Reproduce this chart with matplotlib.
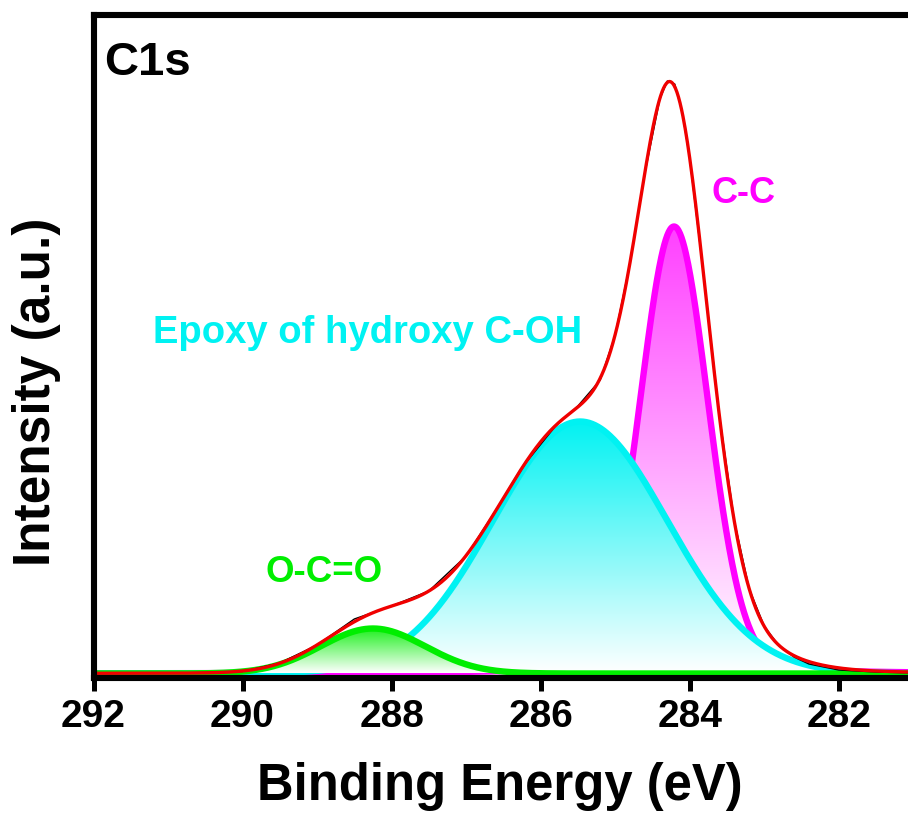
import numpy as np
import matplotlib
matplotlib.use('Agg')
import matplotlib.pyplot as plt
from matplotlib.patches import Polygon
from matplotlib.colors import to_rgb

plt.rcParams['font.family'] = ['Liberation Sans', 'DejaVu Sans']
plt.rcParams['font.weight'] = 'bold'

# raw C1s spectrum (binding energy, intensity)
raw_energy = [292.0, 291.5, 291.0, 290.5, 290.0, 289.5, 289.0, 288.5, 288.0, 287.5,
              287.0, 286.6, 286.2, 285.8, 285.5, 285.2, 285.0, 284.8, 284.6, 284.4,
              284.3, 284.2, 284.1, 284.0, 283.8, 283.6, 283.4, 283.2, 283.0, 282.8,
              282.6, 282.4, 282.0, 281.5, 281.0]
raw_counts = [5, 5, 5, 5.5, 6.5, 15, 33, 59, 72, 87,
              122, 168, 215, 252, 272, 298, 343, 415, 505, 579,
              597, 594, 566, 520, 395, 262, 157, 89, 52, 32,
              21, 14, 8, 6, 5]

# fitted components
peak_names = ['C-C', 'Epoxy of hydroxy C-OH', 'O-C=O']
peak_centers = [284.21, 285.47, 288.25]
peak_heights = [447, 252, 45]
peak_sigmas = [0.46, 1.17, 0.70]
peak_eta = [0.1, 0.0, 0.0]
peak_colors = ['#FF00FF', '#00F2F2', '#00EE00']
fill_strength = [0.75, 1.0, 0.9]
background = 4.5


def pseudo_voigt(x, c, h, s, eta):
    hw = 1.1774 * s
    lor = 1.0 / (1.0 + ((x - c) / hw) ** 2)
    gau = np.exp(-0.5 * ((x - c) / s) ** 2)
    return h * (eta * lor + (1 - eta) * gau)


fig = plt.figure(figsize=(9.08, 8.21), dpi=100)
ax = fig.add_axes([93.5 / 908, 143 / 821, (908 - 93.5) / 908, 663 / 821])

x = np.linspace(292, 281, 1101)
comps = []
z = 1
for c, h, s, eta, col, fs in zip(peak_centers, peak_heights, peak_sigmas, peak_eta,
                                  peak_colors, fill_strength):
    y = background + pseudo_voigt(x, c, h, s, eta)
    comps.append(y)
    # vertical gradient fill, white at base -> colour at peak top
    rgb = np.array(to_rgb(col))
    t = np.linspace(0, 1, 256)[:, None] * fs
    img = (1 - t)[:, :, None] * np.ones(3) + t[:, :, None] * rgb
    img = np.repeat(img, 2, axis=1)
    im = ax.imshow(img, extent=[281, 292, background, y.max()], origin='lower',
                   aspect='auto', zorder=z, interpolation='bilinear')
    verts = np.column_stack([np.r_[x, x[::-1]], np.r_[y, np.full_like(x, background)]])
    poly = Polygon(verts, closed=True, facecolor='none', edgecolor='none',
                   transform=ax.transData)
    ax.add_patch(poly)
    im.set_clip_path(poly)
    ax.plot(x, y, color=col, lw=4.6, zorder=z + 1, solid_capstyle='butt')
    z += 2

envelope = background + sum(c - background for c in comps)
ax.plot(raw_energy, raw_counts, color='black', lw=1.0, zorder=z)
ax.plot(x, envelope, color='#F00000', lw=2.4, zorder=z + 1)

ax.set_xlim(292, 281.07)
ax.set_ylim(0, 663)
ax.set_xticks([292, 290, 288, 286, 284, 282])
ax.set_yticks([])
ax.tick_params(axis='x', direction='out', length=9, width=3.6, labelsize=28, pad=6)
for lab in ax.get_xticklabels():
    lab.set_fontweight('bold')
for side in ['left', 'top', 'bottom']:
    ax.spines[side].set_linewidth(4.4)
    ax.spines[side].set_zorder(20)
ax.spines['right'].set_visible(False)

ax.text(291.86, 603, 'C1s', fontsize=34, fontweight='bold', color='black',
        ha='left', va='baseline')
ax.text(283.71, 475, peak_names[0], fontsize=26, fontweight='bold', color='#FF00FF',
        ha='left', va='baseline')
ax.text(291.20, 335, peak_names[1], fontsize=27.5, fontweight='bold', color='#00F2F2',
        ha='left', va='baseline')
ax.text(289.69, 96, peak_names[2], fontsize=26.5, fontweight='bold', color='#00EE00',
        ha='left', va='baseline')

fig.text(500 / 908, 1 - 800 / 821, 'Binding Energy (eV)', fontsize=36.5,
         fontweight='bold', ha='center', va='baseline')
fig.text(37 / 908, 1 - 392 / 821, 'Intensity (a.u.)', fontsize=37,
         fontweight='bold', ha='center', va='center', rotation=90)

fig.savefig('out.png', dpi=100)
